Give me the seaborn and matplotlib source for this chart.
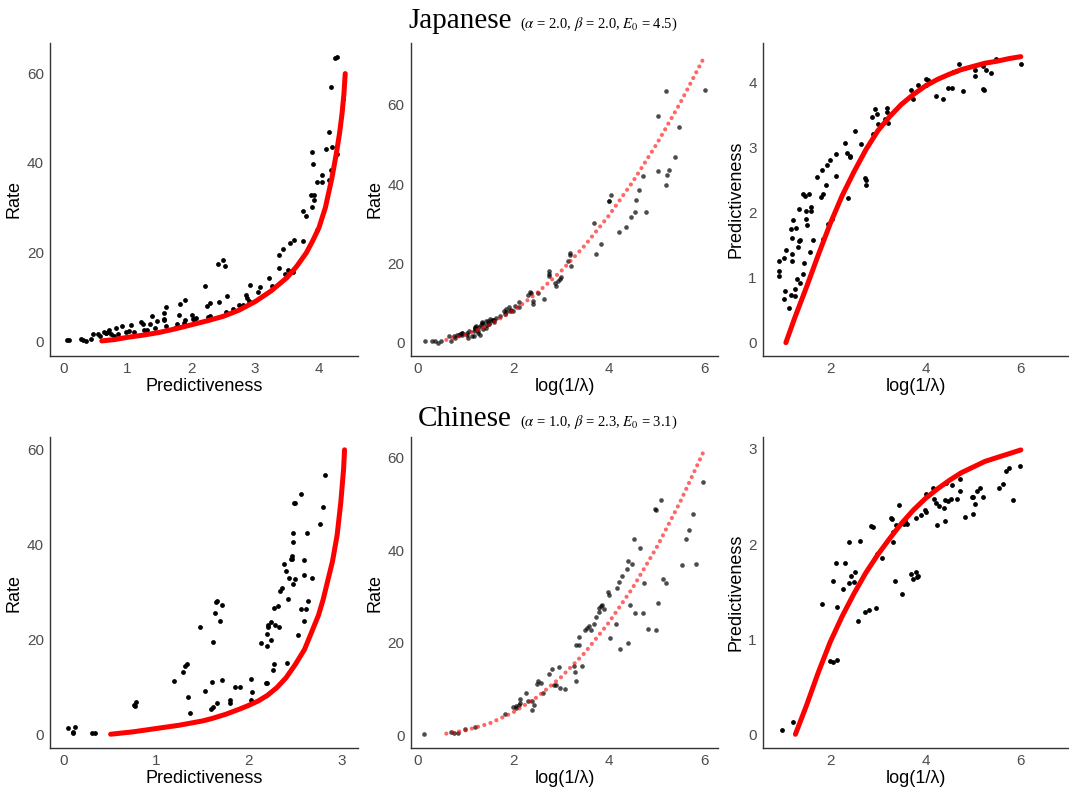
import numpy as np
import pandas as pd
import matplotlib
matplotlib.use("Agg")
import matplotlib.pyplot as plt
import seaborn as sns

# ---- Japanese items: log(1/lambda), predictiveness, rate ----
ja_loglam = [0.15, 0.31, 0.37, 0.42, 0.48, 0.65, 0.70, 0.77, 0.79, 0.82, 0.86, 0.89,
             0.92, 0.92, 0.93, 1.03, 1.03, 1.05, 1.08, 1.13, 1.17, 1.17, 1.19, 1.19,
             1.20, 1.22, 1.26, 1.27, 1.29, 1.31, 1.32, 1.34, 1.34, 1.36, 1.36, 1.43,
             1.43, 1.45, 1.47, 1.49, 1.50, 1.51, 1.55, 1.57, 1.59, 1.59, 1.64, 1.72,
             1.80, 1.83, 1.84, 1.85, 1.91, 1.94, 1.95, 1.99, 2.03, 2.13, 2.13, 2.32,
             2.36, 2.38, 2.41, 2.42, 2.51, 2.65, 2.74, 2.76, 2.76, 2.88, 2.90, 2.93,
             2.98, 3.01, 3.14, 3.19, 3.20, 3.22, 3.69, 3.74, 3.84, 4.00, 4.01, 4.05,
             4.21, 4.36, 4.47, 4.56, 4.57, 4.63, 4.71, 4.78, 5.03, 5.03, 5.20, 5.21,
             5.23, 5.26, 5.38, 5.48, 6.01]
ja_pred = [0.05, 0.08, 0.31, 0.36, 0.28, 0.86, 0.43, 0.47, 0.57, 0.64, 0.67, 0.70,
           1.26, 1.10, 1.03, 1.31, 0.67, 0.79, 1.43, 0.54, 0.74, 1.75, 1.25, 1.36,
           1.61, 1.89, 0.82, 0.72, 1.77, 0.98, 1.47, 2.05, 1.57, 1.58, 0.92, 1.05,
           2.28, 1.22, 2.26, 2.03, 1.91, 1.81, 2.29, 1.39, 2.08, 2.02, 1.58, 2.55,
           2.24, 2.66, 1.60, 2.29, 2.43, 2.74, 1.83, 2.81, 1.90, 2.56, 2.90, 3.07,
           2.92, 2.22, 2.87, 2.85, 3.26, 3.05, 2.53, 2.50, 2.42, 3.47, 3.21, 3.59,
           3.52, 3.37, 3.44, 3.55, 3.61, 3.38, 3.89, 3.75, 3.97, 4.05, 3.97, 4.04,
           3.79, 3.75, 3.92, 3.92, 4.16, 4.18, 4.28, 3.87, 4.19, 4.11, 4.25, 3.90,
           3.89, 4.20, 4.15, 4.37, 4.28]
ja_rate = [0.4, 0.4, 0.3, 0.0, 0.5, 1.6, 0.5, 1.6, 1.1, 2.0, 1.9, 2.2,
           2.5, 2.0, 2.4, 2.5, 1.9, 1.2, 2.9, 1.6, 1.6, 3.0, 3.8, 4.0,
           3.5, 4.2, 2.9, 2.5, 3.9, 2.0, 4.5, 5.1, 5.0, 4.8, 3.5, 3.6,
           5.4, 4.4, 5.4, 5.0, 4.8, 5.9, 5.6, 5.7, 5.3, 5.8, 6.3, 6.6,
           8.0, 7.2, 7.7, 8.6, 8.9, 8.1, 8.3, 8.1, 9.3, 10.2, 9.1, 12.1,
           12.7, 12.4, 9.8, 10.4, 12.4, 11.1, 16.9, 18.2, 17.4, 15.0, 14.2, 15.6,
           16.0, 16.5, 20.6, 22.0, 22.7, 19.3, 30.2, 22.4, 24.9, 35.7, 35.7, 37.2,
           28.0, 29.2, 31.6, 32.9, 36.1, 38.5, 42.0, 32.9, 57.1, 43.2, 63.6, 39.8,
           42.4, 43.6, 46.8, 54.4, 63.7]

# ---- Chinese items ----
cn_loglam = [0.14, 0.70, 0.76, 0.84, 0.99, 1.21, 1.83, 1.99, 2.05, 2.06, 2.12, 2.15,
             2.15, 2.27, 2.32, 2.39, 2.40, 2.43, 2.49, 2.52, 2.59, 2.62, 2.74, 2.81,
             2.85, 2.90, 2.97, 2.99, 3.08, 3.28, 3.30, 3.32, 3.32, 3.37, 3.38, 3.45,
             3.50, 3.55, 3.58, 3.62, 3.69, 3.74, 3.79, 3.80, 3.83, 3.85, 3.90, 3.99,
             4.00, 4.02, 4.16, 4.18, 4.22, 4.24, 4.28, 4.39, 4.41, 4.41, 4.44, 4.48,
             4.53, 4.55, 4.66, 4.72, 4.73, 4.83, 4.98, 5.00, 5.00, 5.03, 5.09, 5.14,
             5.21, 5.54, 5.63, 5.69, 5.76, 5.83, 5.98]
cn_pred = [0.10, 0.11, 0.31, 0.34, 0.05, 0.13, 1.37, 0.77, 0.76, 1.61, 1.80, 1.34,
           0.78, 1.53, 1.80, 1.59, 2.02, 1.66, 1.60, 1.71, 1.19, 2.03, 1.29, 1.31,
           2.19, 2.18, 1.33, 1.90, 1.85, 2.27, 2.26, 2.13, 2.02, 1.61, 2.20, 2.41,
           1.47, 2.21, 2.24, 2.21, 1.69, 1.63, 2.27, 1.71, 1.65, 1.66, 2.31, 2.36,
           2.34, 2.53, 2.59, 2.47, 2.43, 2.20, 2.40, 2.38, 2.46, 2.24, 2.64, 2.45,
           2.47, 2.62, 2.47, 2.56, 2.68, 2.28, 2.49, 2.50, 2.32, 2.42, 2.56, 2.59,
           2.50, 2.59, 2.63, 2.77, 2.80, 2.46, 2.82]
cn_rate = [0.3, 0.6, 0.4, 0.35, 1.4, 1.7, 4.5, 6.0, 6.3, 5.8, 6.6, 7.9,
           6.9, 9.2, 7.4, 5.5, 7.4, 6.6, 11.0, 11.6, 11.3, 9.0, 13.3, 14.4,
           10.9, 10.8, 14.8, 10.1, 10.0, 14.9, 13.6, 19.4, 11.8, 19.5, 21.3, 15.0,
           22.7, 23.1, 23.7, 22.7, 24.0, 25.6, 26.7, 27.4, 27.9, 28.2, 27.2, 31.0,
           30.3, 20.9, 24.0, 31.8, 33.1, 18.7, 34.4, 35.9, 37.7, 19.9, 28.2, 37.0,
           42.4, 26.4, 40.5, 26.4, 33.0, 23.0, 48.9, 48.7, 22.7, 28.5, 50.8, 33.7,
           32.8, 36.7, 42.4, 44.4, 47.9, 37.0, 54.7]

# ---- model curves ----
ja_fit1_pred = [0.6, 0.8, 1.0, 1.25, 1.5, 1.75, 2.0, 2.25, 2.5, 2.75, 3.0, 3.25, 3.5,
                3.65, 3.8, 3.9, 4.0, 4.1, 4.2, 4.27, 4.32, 4.36, 4.39, 4.41]
ja_fit1_rate = [0.1, 0.4, 0.9, 1.4, 2.0, 2.8, 3.7, 4.6, 5.6, 7.0, 8.9, 11.3, 14.3,
                16.8, 19.8, 22.5, 25.5, 30.0, 36.5, 42.0, 46.5, 51.0, 55.5, 60.0]
ja_fit2_loglam = [0.6, 1.0, 1.5, 2.0, 2.5, 3.0, 3.5, 4.0, 4.5, 5.0, 5.5, 6.0]
ja_fit2_rate = [0.7, 2.0, 4.5, 8.0, 12.5, 18.0, 24.5, 32.0, 40.5, 50.0, 60.5, 72.0]
ja_fit3_loglam = [1.07, 1.25, 1.5, 1.75, 2.0, 2.25, 2.5, 2.75, 3.0, 3.25, 3.5, 3.75,
                  4.0, 4.25, 4.5, 4.75, 5.0, 5.25, 5.5, 5.75, 6.0]
ja_fit3_pred = [0.0, 0.37, 0.85, 1.35, 1.83, 2.26, 2.63, 2.97, 3.26, 3.48, 3.67, 3.82,
                3.95, 4.05, 4.13, 4.20, 4.25, 4.30, 4.33, 4.37, 4.40]

cn_fit1_pred = [0.51, 0.75, 1.0, 1.25, 1.5, 1.6, 1.75, 1.9, 2.0, 2.1, 2.2, 2.3, 2.4,
                2.5, 2.6, 2.7, 2.75, 2.8, 2.9, 2.95, 2.99, 3.02, 3.03]
cn_fit1_rate = [0.1, 0.6, 1.3, 2.0, 2.9, 3.4, 4.3, 5.4, 6.2, 7.1, 8.3, 9.9, 12.0,
                14.8, 18.0, 22.8, 25.2, 28.5, 36.5, 42.0, 49.0, 56.0, 60.0]
cn_fit2_loglam = [0.6, 1.0, 1.5, 2.0, 2.5, 3.0, 3.5, 4.0, 4.5, 5.0, 5.5, 6.0]
cn_fit2_rate = [0.31, 1.0, 2.5, 4.9, 8.2, 12.5, 17.8, 24.3, 31.8, 40.5, 50.5, 61.6]
cn_fit3_loglam = [1.27, 1.5, 1.75, 2.0, 2.25, 2.5, 2.75, 3.0, 3.25, 3.5, 3.75, 4.0,
                  4.25, 4.5, 4.75, 5.0, 5.25, 5.5, 5.75, 6.0]
cn_fit3_pred = [0.0, 0.30, 0.65, 0.97, 1.24, 1.48, 1.70, 1.89, 2.06, 2.22, 2.36, 2.48,
                2.58, 2.67, 2.75, 2.81, 2.87, 2.91, 2.95, 2.99]

titles = ["Japanese", "Chinese"]
params = [r"($\alpha$ = 2.0, $\beta$ = 2.0, $E_0$ = 4.5)",
          r"($\alpha$ = 1.0, $\beta$ = 2.3, $E_0$ = 3.1)"]

sns.set_style("white")
plt.rcParams["font.family"] = ["Liberation Sans", "DejaVu Sans"]
plt.rcParams["mathtext.fontset"] = "stix"

W, H = 1069, 787
fig = plt.figure(figsize=(W / 100, H / 100), dpi=100)

def add_ax(l, t, r, b):
    return fig.add_axes([l / W, 1 - b / H, (r - l) / W, (b - t) / H])

def style(ax, xlabel, ylabel, xlim, ylim, xt, yt):
    sns.despine(ax=ax)
    for s in ["left", "bottom"]:
        ax.spines[s].set_color("#333333")
        ax.spines[s].set_linewidth(1.0)
    ax.set_xlim(xlim)
    ax.set_ylim(ylim)
    ax.set_xticks(xt)
    ax.set_yticks(yt)
    ax.tick_params(axis="both", labelsize=11, colors="#333333", labelcolor="#4D4D4D",
                   length=2.5, width=0.8, pad=2)
    ax.set_xlabel(xlabel, fontsize=13, color="black", labelpad=1)
    ax.set_ylabel(ylabel, fontsize=13, color="black", labelpad=3)

rows = [
    dict(df=pd.DataFrame({"loglam": ja_loglam, "pred": ja_pred, "rate": ja_rate}),
         f1=(ja_fit1_pred, ja_fit1_rate), f2=(ja_fit2_loglam, ja_fit2_rate),
         f3=(ja_fit3_loglam, ja_fit3_pred),
         lim1=((-0.21, 4.61), (-3.28, 66.85)), xt1=[0, 1, 2, 3, 4], yt1=[0, 20, 40, 60],
         lim2=((-0.14, 6.29), (-3.37, 75.6)),
         lim3=((0.59, 6.99), (-0.205, 4.61)), yt3=[0, 1, 2, 3, 4],
         top=43, bottom=356, ttl_y=28),
    dict(df=pd.DataFrame({"loglam": cn_loglam, "pred": cn_pred, "rate": cn_rate}),
         f1=(cn_fit1_pred, cn_fit1_rate), f2=(cn_fit2_loglam, cn_fit2_rate),
         f3=(cn_fit3_loglam, cn_fit3_pred),
         lim1=((-0.143, 3.175), (-2.8, 62.7)), xt1=[0, 1, 2, 3], yt1=[0, 20, 40, 60],
         lim2=((-0.14, 6.29), (-2.8, 64.5)),
         lim3=((0.59, 6.99), (-0.144, 3.126)), yt3=[0, 1, 2, 3],
         top=437, bottom=748, ttl_y=426),
]

for i, r in enumerate(rows):
    df = r["df"]
    t, b = r["top"], r["bottom"]

    # predictiveness vs rate
    ax1 = add_ax(50, t, 358, b)
    sns.scatterplot(data=df, x="pred", y="rate", color="black", s=12, linewidth=0, ax=ax1)
    sns.lineplot(x=r["f1"][0], y=r["f1"][1], color="red", lw=3.6, estimator=None, ax=ax1)
    style(ax1, "Predictiveness", "Rate", *r["lim1"], r["xt1"], r["yt1"])

    # log(1/lambda) vs rate
    ax2 = add_ax(411, t, 718, b)
    sns.scatterplot(data=df, x="loglam", y="rate", color="black", alpha=0.7, s=11,
                    linewidth=0, ax=ax2)
    sns.lineplot(x=r["f2"][0], y=r["f2"][1], color="red", alpha=0.6, lw=3.0,
                 estimator=None, ax=ax2)
    ln = ax2.lines[-1]
    ln.set_linestyle((0, (0.01, 1.55)))
    ln.set_dash_capstyle("round")
    style(ax2, "log(1/λ)", "Rate", *r["lim2"], [0, 2, 4, 6], [0, 20, 40, 60])

    # log(1/lambda) vs predictiveness
    ax3 = add_ax(763, t, 1068, b)
    sub = df[df["loglam"] > 0.9]
    sns.scatterplot(data=sub, x="loglam", y="pred", color="black", s=12, linewidth=0, ax=ax3)
    sns.lineplot(x=r["f3"][0], y=r["f3"][1], color="red", lw=3.6, estimator=None, ax=ax3)
    style(ax3, "log(1/λ)", "Predictiveness", *r["lim3"], [2, 4, 6], r["yt3"])

    # row title
    fig.text(512 / W, 1 - r["ttl_y"] / H, titles[i], ha="right", va="baseline",
             fontsize=21, color="black", family=["Liberation Serif", "DejaVu Serif"])
    fig.text(520 / W, 1 - r["ttl_y"] / H, params[i], ha="left", va="baseline",
             fontsize=10.5, color="black", family=["Liberation Serif", "DejaVu Serif"])

fig.savefig("out.png", dpi=100)
